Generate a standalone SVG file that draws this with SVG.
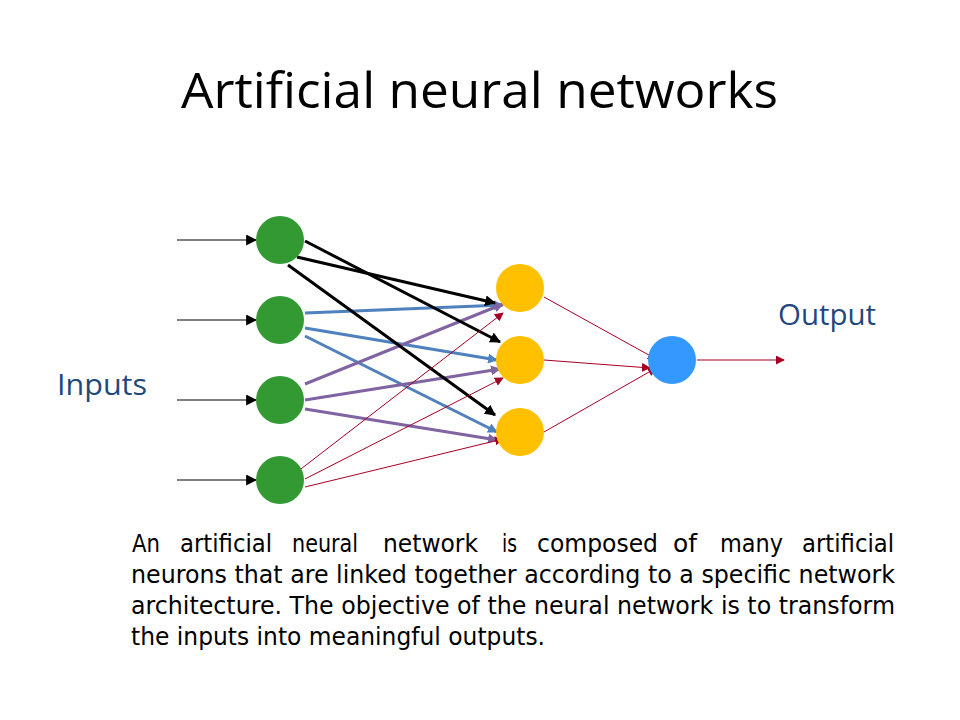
<svg xmlns="http://www.w3.org/2000/svg" width="960" height="720" viewBox="0 0 960 720">
<style>
.title{font-family:"Open Sans","Liberation Sans",sans-serif;font-size:50px;fill:#000}
.lbl{font-family:"Open Sans","Liberation Sans",sans-serif;font-size:30px;fill:#1F497D}
.para{font-family:"DejaVu Sans","Liberation Sans",sans-serif;font-size:24.5px;fill:#000}
.in{stroke:#000;stroke-width:1.2;fill:none}
.bk{stroke:#000;stroke-width:3;fill:none}
.bl{stroke:#4F81BD;stroke-width:3;fill:none}
.pu{stroke:#8064A2;stroke-width:3;fill:none}
.rd{stroke:#A50021;stroke-width:1;fill:none}
.g{fill:#339933}.y{fill:#FFC000}.b{fill:#3399FF}
</style>
<defs>
<marker id="ak" viewBox="0 0 10 10" refX="9" refY="5" markerWidth="11" markerHeight="11" markerUnits="userSpaceOnUse" orient="auto"><path d="M0,0L10,5L0,10z" fill="#000"/></marker>
<marker id="ab" viewBox="0 0 10 10" refX="9" refY="5" markerWidth="10" markerHeight="10" markerUnits="userSpaceOnUse" orient="auto"><path d="M0,0L10,5L0,10z" fill="#4F81BD"/></marker>
<marker id="ap" viewBox="0 0 10 10" refX="9" refY="5" markerWidth="10" markerHeight="10" markerUnits="userSpaceOnUse" orient="auto"><path d="M0,0L10,5L0,10z" fill="#8064A2"/></marker>
<marker id="ar" viewBox="0 0 10 10" refX="9" refY="5" markerWidth="9" markerHeight="9" markerUnits="userSpaceOnUse" orient="auto"><path d="M0,0L10,5L0,10z" fill="#A50021"/></marker>
</defs>
<text class="title" x="181" y="108" textLength="597" lengthAdjust="spacingAndGlyphs">Artificial neural networks</text>
<g id="connectors">
<line class="in" x1="177" y1="240" x2="256" y2="240" marker-end="url(#ak)"/>
<line class="in" x1="177" y1="320" x2="256" y2="320" marker-end="url(#ak)"/>
<line class="in" x1="177" y1="400" x2="256" y2="400" marker-end="url(#ak)"/>
<line class="in" x1="177" y1="480" x2="256" y2="480" marker-end="url(#ak)"/>
<line class="bl" x1="305" y1="313" x2="503" y2="305" marker-end="url(#ab)"/>
<line class="bl" x1="305" y1="328" x2="497" y2="360" marker-end="url(#ab)"/>
<line class="bl" x1="305" y1="336" x2="497" y2="432" marker-end="url(#ab)"/>
<line class="pu" x1="305" y1="384" x2="503" y2="304" marker-end="url(#ap)"/>
<line class="pu" x1="305" y1="400" x2="500" y2="369" marker-end="url(#ap)"/>
<line class="pu" x1="305" y1="409" x2="497" y2="440" marker-end="url(#ap)"/>
<line class="bk" x1="305" y1="241" x2="500" y2="342" marker-end="url(#ak)"/>
<line class="bk" x1="297" y1="257" x2="495" y2="303" marker-end="url(#ak)"/>
<line class="bk" x1="288" y1="265" x2="495" y2="415" marker-end="url(#ak)"/>
<line class="rd" x1="297" y1="472" x2="503" y2="313" marker-end="url(#ar)"/>
<line class="rd" x1="305" y1="479" x2="503" y2="378" marker-end="url(#ar)"/>
<line class="rd" x1="305" y1="487" x2="503" y2="439" marker-end="url(#ar)"/>
<line class="rd" x1="544" y1="297" x2="656" y2="359" marker-end="url(#ar)"/>
<line class="rd" x1="544" y1="360" x2="650" y2="368" marker-end="url(#ar)"/>
<line class="rd" x1="544" y1="432" x2="656" y2="368" marker-end="url(#ar)"/>
<line class="rd" x1="697" y1="360" x2="784" y2="360" marker-end="url(#ar)"/>
</g>
<g id="in1"><circle class="g" cx="280" cy="240" r="24"/></g>
<g id="in2"><circle class="g" cx="280" cy="320" r="24"/></g>
<g id="in3"><circle class="g" cx="280" cy="400" r="24"/></g>
<g id="in4"><circle class="g" cx="280" cy="480" r="24"/></g>
<g id="h1"><circle class="y" cx="520" cy="288" r="24"/></g>
<g id="h2"><circle class="y" cx="520" cy="360" r="24"/></g>
<g id="h3"><circle class="y" cx="520" cy="432" r="24"/></g>
<g id="out"><circle class="b" cx="672" cy="360" r="24"/></g>
<text class="lbl" x="57" y="395" textLength="90" lengthAdjust="spacingAndGlyphs">Inputs</text>
<text class="lbl" x="778" y="325" textLength="98" lengthAdjust="spacingAndGlyphs">Output</text>
<g id="para">
<text class="para" y="552"><tspan x="132" textLength="28" lengthAdjust="spacingAndGlyphs">An</tspan> <tspan x="180" textLength="92" lengthAdjust="spacingAndGlyphs">artificial</tspan> <tspan x="292" textLength="66" lengthAdjust="spacingAndGlyphs">neural</tspan> <tspan x="383" textLength="95" lengthAdjust="spacingAndGlyphs">network</tspan> <tspan x="502" textLength="15" lengthAdjust="spacingAndGlyphs">is</tspan> <tspan x="537" textLength="121" lengthAdjust="spacingAndGlyphs">composed</tspan> <tspan x="673" textLength="24" lengthAdjust="spacingAndGlyphs">of</tspan> <tspan x="720" textLength="63" lengthAdjust="spacingAndGlyphs">many</tspan> <tspan x="802" textLength="92" lengthAdjust="spacingAndGlyphs">artificial</tspan></text>
<text class="para" x="131" y="583" textLength="764" lengthAdjust="spacingAndGlyphs">neurons that are linked together according to a specific network</text>
<text class="para" x="131" y="614" textLength="764" lengthAdjust="spacingAndGlyphs">architecture. The objective of the neural network is to transform</text>
<text class="para" x="131" y="645" textLength="414" lengthAdjust="spacingAndGlyphs">the inputs into meaningful outputs.</text>
</g>
</svg>
